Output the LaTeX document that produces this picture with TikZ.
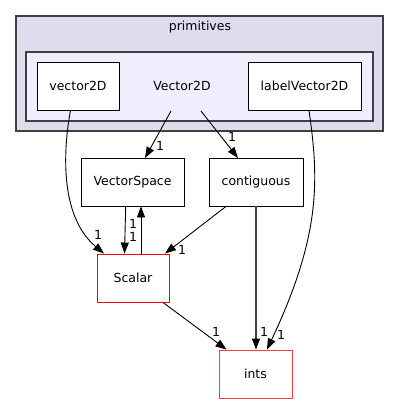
\documentclass[tikz,border=0pt]{standalone}
\usepackage{fontspec}
\setmainfont{DejaVu Sans}
\usetikzlibrary{arrows.meta}
\definecolor{clouter}{HTML}{DDDDEE}
\definecolor{clinner}{HTML}{EEEEFF}
\definecolor{clborder}{HTML}{404040}
\definecolor{lightred}{HTML}{FF4040}
\begin{document}
\begin{tikzpicture}[x=1pt,y=-1pt,
  font=\fontsize{12.5}{14}\selectfont,
  cluster/.style={draw=clborder,line width=1.4pt},
  dirbox/.style={draw=black,fill=white,line width=0.9pt,minimum height=48pt,inner sep=0pt},
  redbox/.style={dirbox,draw=red},
  dep/.style={draw=black,line width=0.9pt,-{Triangle[length=11pt,width=8pt]}},
  thickdep/.style={draw=clborder,line width=1.6pt,-{Triangle[length=11pt,width=8pt,black,line width=0.9pt]}},
  lbl/.style={inner sep=0pt,font=\fontsize{12.5}{14}\selectfont}]
\useasboundingbox (0,0) rectangle (400,404);
% clusters
\draw[cluster,fill=clouter] (16,16) rectangle (383,131);
\node[inner sep=0pt] (primlabel) at (200,27) {primitives};
\draw[cluster,fill=clinner] (26,52) rectangle (373,121);
\node[inner sep=0pt] (v2dlabel) at (182,86) {Vector2D};
% nodes
\node[dirbox,minimum width=82pt] (vector2D) at (78,86) {vector2D};
\node[dirbox,minimum width=113pt] (labelVector2D) at (304.5,86) {labelVector2D};
\node[dirbox,minimum width=103pt] (VectorSpace) at (132.5,182) {VectorSpace};
\node[dirbox,minimum width=94pt] (contiguous) at (256,182) {contiguous};
\node[redbox,minimum width=72pt] (Scalar) at (133,278) {Scalar};
\node[redbox,draw=lightred,minimum width=73pt] (ints) at (255.5,374) {ints};
% free ends of the cluster edges
\coordinate (Va) at (171,111);
\coordinate (Vb) at (201,111);
\coordinate (VSin) at (145,158);
\coordinate (CGin) at (238,158);
% edges
\draw[dep] (Va) -- (VSin);
\node[lbl] (l1) at (160,146) {1};
\draw[dep] (Vb) -- (CGin);
\node[lbl] (l2) at (232,137) {1};
\draw[dep] (vector2D.south -| 70.5,0) .. controls (64,145) and (58,215) .. (Scalar.north -| 104,0);
\node[lbl] (l3) at (98,235) {1};
\draw[dep] (VectorSpace.south -| 125.7,0) -- (Scalar.north -| 124.5,0);
\node[lbl] (l4) at (133,224) {1};
\draw[dep] (Scalar.north -| 141,0) -- (VectorSpace.south -| 141,0);
\node[lbl] (l5) at (133,237) {1};
\draw[dep] (contiguous.south -| 226,0) -- (Scalar.north -| 165,0);
\node[lbl] (l6) at (182,250) {1};
\draw[thickdep] (contiguous.south) -- (ints.north -| 256,0);
\node[lbl] (l7) at (264,332) {1};
\draw[dep] (Scalar.south -| 163,0) -- (ints.north -| 226.5,0);
\node[lbl] (l8) at (216,332) {1};
\draw[dep] (labelVector2D.south -| 309,0) .. controls (319,180) and (321,235) .. (ints.north -| 267,0);
\node[lbl] (l9) at (281,335) {1};
\end{tikzpicture}
\end{document}
